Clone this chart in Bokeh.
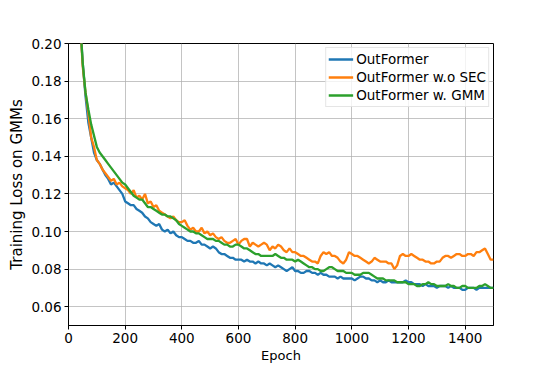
from bokeh.plotting import figure
from bokeh.models import Range1d, FixedTicker, NumeralTickFormatter, Legend, LegendItem
from bokeh.embed import file_html
from bokeh.resources import INLINE

epochs = list(range(40, 1501, 10))

outformer = [
    0.215, 0.190, 0.172, 0.158, 0.150, 0.142, 0.138, 0.136, 0.133, 0.130,
    0.128, 0.125, 0.126, 0.124, 0.122, 0.120, 0.116, 0.115, 0.114, 0.114,
    0.112, 0.111, 0.110, 0.108, 0.107, 0.105, 0.104, 0.103, 0.104, 0.101,
    0.100, 0.101, 0.099, 0.100, 0.098, 0.097, 0.097, 0.096, 0.095, 0.095,
    0.094, 0.094, 0.095, 0.093, 0.093, 0.092, 0.091, 0.092, 0.091, 0.089,
    0.088, 0.088, 0.087, 0.086, 0.086, 0.085, 0.085, 0.085, 0.084, 0.085,
    0.084, 0.084, 0.083, 0.084, 0.083, 0.083, 0.082, 0.083, 0.082, 0.081,
    0.082, 0.081, 0.080, 0.079, 0.080, 0.081, 0.079, 0.079, 0.078, 0.078,
    0.079, 0.079, 0.078, 0.078, 0.077, 0.078, 0.077, 0.077, 0.076, 0.076,
    0.076, 0.075, 0.076, 0.075, 0.075, 0.075, 0.075, 0.074, 0.075, 0.076,
    0.076, 0.075, 0.075, 0.074, 0.074, 0.073, 0.074, 0.073, 0.073, 0.074,
    0.073, 0.073, 0.073, 0.073, 0.073, 0.074, 0.073, 0.073, 0.072, 0.072,
    0.072, 0.071, 0.072, 0.071, 0.071, 0.071, 0.070, 0.071, 0.071, 0.071,
    0.070, 0.071, 0.070, 0.070, 0.070, 0.069, 0.069, 0.070, 0.070, 0.070,
    0.069, 0.070, 0.070, 0.070, 0.070, 0.070, 0.070,
]

outformer_wo_sec = [
    0.215, 0.188, 0.174, 0.163, 0.150, 0.145, 0.138, 0.136, 0.133, 0.131,
    0.129, 0.127, 0.128, 0.125, 0.126, 0.124, 0.123, 0.122, 0.120, 0.122,
    0.118, 0.119, 0.117, 0.120, 0.115, 0.116, 0.113, 0.114, 0.111, 0.110,
    0.109, 0.108, 0.107, 0.108, 0.106, 0.105, 0.105, 0.106, 0.103, 0.101,
    0.102, 0.100, 0.100, 0.102, 0.099, 0.100, 0.098, 0.099, 0.097, 0.096,
    0.097, 0.095, 0.094, 0.094, 0.095, 0.096, 0.093, 0.095, 0.096, 0.096,
    0.092, 0.094, 0.093, 0.092, 0.093, 0.094, 0.093, 0.090, 0.092, 0.091,
    0.093, 0.092, 0.090, 0.089, 0.091, 0.089, 0.089, 0.088, 0.087, 0.087,
    0.086, 0.085, 0.084, 0.084, 0.083, 0.087, 0.089, 0.088, 0.089, 0.087,
    0.087, 0.086, 0.084, 0.083, 0.085, 0.089, 0.088, 0.087, 0.087, 0.086,
    0.085, 0.084, 0.083, 0.084, 0.086, 0.085, 0.084, 0.084, 0.084, 0.083,
    0.083, 0.080, 0.082, 0.087, 0.088, 0.087, 0.087, 0.088, 0.087, 0.086,
    0.085, 0.085, 0.084, 0.084, 0.083, 0.083, 0.084, 0.084, 0.086, 0.087,
    0.087, 0.086, 0.087, 0.088, 0.088, 0.087, 0.087, 0.088, 0.088, 0.087,
    0.089, 0.089, 0.090, 0.091, 0.088, 0.085, 0.085,
]

outformer_w_gmm = [
    0.215, 0.190, 0.174, 0.165, 0.157, 0.151, 0.145, 0.142, 0.140, 0.138,
    0.136, 0.134, 0.132, 0.130, 0.128, 0.126, 0.125, 0.123, 0.121, 0.119,
    0.118, 0.117, 0.117, 0.115, 0.113, 0.113, 0.112, 0.111, 0.110, 0.109,
    0.109, 0.108, 0.108, 0.107, 0.106, 0.104, 0.103, 0.102, 0.101, 0.100,
    0.100, 0.099, 0.099, 0.098, 0.097, 0.096, 0.096, 0.096, 0.095, 0.095,
    0.094, 0.093, 0.093, 0.092, 0.092, 0.093, 0.093, 0.092, 0.091, 0.091,
    0.090, 0.089, 0.088, 0.088, 0.087, 0.087, 0.087, 0.087, 0.087, 0.088,
    0.087, 0.086, 0.086, 0.085, 0.085, 0.085, 0.084, 0.085, 0.084, 0.083,
    0.082, 0.081, 0.081, 0.080, 0.080, 0.079, 0.079, 0.080, 0.081, 0.081,
    0.080, 0.079, 0.079, 0.079, 0.078, 0.078, 0.078, 0.077, 0.077, 0.077,
    0.078, 0.078, 0.078, 0.077, 0.076, 0.075, 0.075, 0.075, 0.074, 0.074,
    0.074, 0.074, 0.073, 0.073, 0.073, 0.073, 0.072, 0.072, 0.072, 0.071,
    0.071, 0.072, 0.072, 0.073, 0.072, 0.072, 0.071, 0.071, 0.071, 0.071,
    0.072, 0.071, 0.071, 0.070, 0.070, 0.071, 0.071, 0.070, 0.070, 0.070,
    0.070, 0.071, 0.071, 0.072, 0.071, 0.070, 0.070,
]

series_names = ["OutFormer", "OutFormer w.o SEC", "OutFormer w. GMM"]
series_colors = ["#1f77b4", "#ff7f0e", "#2ca02c"]
x_ticks = [0, 200, 400, 600, 800, 1000, 1200, 1400]
y_ticks = [0.06, 0.08, 0.10, 0.12, 0.14, 0.16, 0.18, 0.20]

FONT = "DejaVu Sans"

p = figure(width=540, height=366, output_backend="svg", toolbar_location=None,
           x_range=Range1d(0, 1500), y_range=Range1d(0.05, 0.20),
           min_border_left=68, min_border_right=47, min_border_top=43, min_border_bottom=41)

p.background_fill_color = "white"
p.border_fill_color = "white"
p.outline_line_color = "black"
p.outline_line_width = 1
p.outline_line_alpha = 1

renderers = []
for vals, col in zip([outformer, outformer_wo_sec, outformer_w_gmm], series_colors):
    r = p.line(epochs, vals, line_color=col, line_width=2.3)
    renderers.append(r)

p.xaxis.ticker = FixedTicker(ticks=x_ticks)
p.yaxis.ticker = FixedTicker(ticks=y_ticks)
p.yaxis.formatter = NumeralTickFormatter(format="0.00")
p.xaxis.axis_label = "Epoch"
p.yaxis.axis_label = "Training Loss on GMMs"

for ax in (p.xaxis, p.yaxis):
    ax.axis_line_color = "black"
    ax.major_tick_line_color = "black"
    ax.major_tick_out = 4
    ax.major_tick_in = 0
    ax.minor_tick_line_color = None
    ax.major_label_text_font = FONT
    ax.major_label_text_font_size = "13.5px"
    ax.major_label_text_color = "black"
    ax.axis_label_text_font = FONT
    ax.axis_label_text_font_style = "normal"
    ax.axis_label_text_color = "black"

p.xaxis.axis_label_text_font_size = "13px"
p.yaxis.axis_label_text_font_size = "15px"
p.xaxis.major_label_standoff = 3
p.yaxis.major_label_standoff = 3
p.xaxis.axis_label_standoff = 2
p.yaxis.axis_label_standoff = 2

p.grid.grid_line_color = "#b0b0b0"
p.grid.grid_line_alpha = 0.75
p.grid.grid_line_width = 1

legend = Legend(items=[LegendItem(label=n, renderers=[r]) for n, r in zip(series_names, renderers)],
                location="top_right")
legend.margin = 4
legend.padding = 2
legend.spacing = 0
legend.glyph_width = 25
legend.glyph_height = 18
legend.label_height = 18
legend.label_standoff = 3
legend.label_text_font = FONT
legend.label_text_font_size = "13.5px"
legend.label_text_color = "black"
legend.border_line_color = "#cccccc"
legend.border_line_width = 1
legend.background_fill_color = "white"
legend.background_fill_alpha = 0.8
p.add_layout(legend)

open("out.html", "w").write(file_html(p, INLINE))
